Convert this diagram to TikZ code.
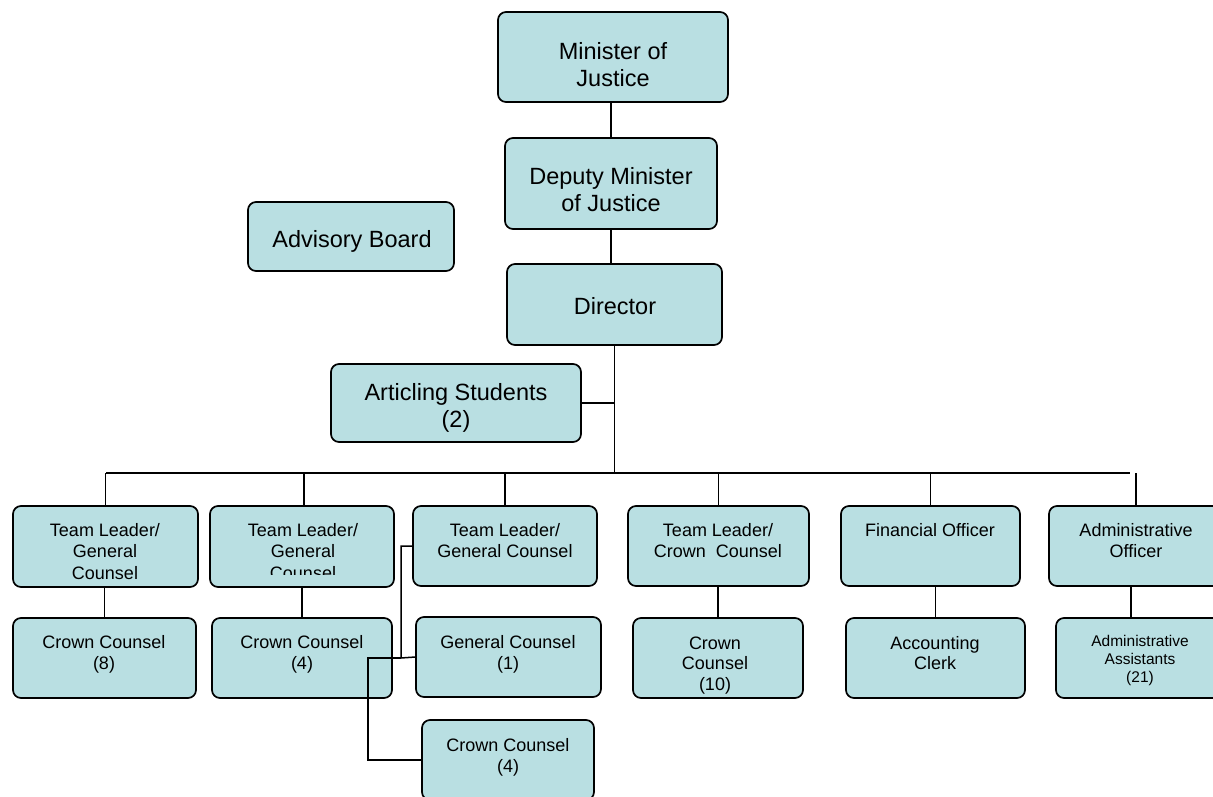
\documentclass[tikz,border=0pt]{standalone}
\usepackage{fontspec}
\setmainfont{Liberation Sans}
\definecolor{boxfill}{RGB}{185,223,226}
\newcommand{\tlines}[1]{\vtop{\halign{\hfil##\hfil\cr#1\crcr}}}
\begin{document}
\begin{tikzpicture}[x=1pt,y=-1pt,
  box/.style={draw=black, line width=1.7pt, rounded corners=8pt, fill=boxfill, inner sep=0pt},
  lbl/.style={anchor=base, inner sep=0pt},
  big/.style={font=\fontsize{23.5}{27}\selectfont},
  mid/.style={font=\fontsize{18}{21.5}\selectfont},
  midt/.style={font=\fontsize{18}{20.5}\selectfont},
  small/.style={font=\fontsize{15.5}{18}\selectfont},
  conn/.style={line width=1.5pt}]
\clip (0,0) rectangle (1213,796);
% boxes
\node[box, minimum width=230pt, minimum height=90pt] (min) at (613,57) {};
\node[box, minimum width=212pt, minimum height=91pt] (dep) at (611,183.5) {};
\node[box, minimum width=206pt, minimum height=69pt] (adv) at (351,236.5) {};
\node[box, minimum width=215pt, minimum height=81pt] (dir) at (614.5,304.5) {};
\node[box, minimum width=250pt, minimum height=78pt] (art) at (456,403) {};
\node[box, minimum width=185pt, minimum height=81pt] (tl1) at (105.5,546.5) {};
\node[box, minimum width=184pt, minimum height=81pt] (tl2) at (302,546.5) {};
\node[box, minimum width=184pt, minimum height=80pt] (tl3) at (505,546) {};
\node[box, minimum width=181pt, minimum height=80pt] (tlc) at (718.5,546) {};
\node[box, minimum width=179pt, minimum height=80pt] (fo) at (930.5,546) {};
\node[box, minimum width=174pt, minimum height=80pt] (ao) at (1136,546) {};
\node[box, minimum width=183pt, minimum height=80pt] (c8) at (104.5,658) {};
\node[box, minimum width=180pt, minimum height=80pt] (c4a) at (302,658) {};
\node[box, minimum width=185pt, minimum height=80pt] (gc1) at (508.5,657) {};
\node[box, minimum width=172pt, minimum height=80pt] (c4b) at (508,760) {};
\node[box, minimum width=170pt, minimum height=80pt] (c10) at (718,658) {};
\node[box, minimum width=179pt, minimum height=80pt] (ac) at (935.5,658) {};
\node[box, minimum width=168pt, minimum height=80pt] (aa) at (1140,658) {};
% labels
\node[lbl, big] (minT) at (613,59) {\tlines{Minister of\cr Justice}};
\node[lbl, big] (depT) at (611,184) {\tlines{Deputy Minister\cr of Justice}};
\node[lbl, big] (advT) at (352,247) {\tlines{Advisory Board}};
\node[lbl, big] (dirT) at (615,314) {\tlines{Director}};
\node[lbl, big] (artT) at (456,400) {\tlines{Articling Students\cr (2)}};
\node[lbl, mid] (tl1T) at (105,536) {\tlines{Team Leader/\cr General\cr Counsel}};
\begin{scope}
\clip (210,506) rectangle (394,574);
\node[lbl, mid] (tl2T) at (303,536) {\tlines{Team Leader/\cr General\cr Counsel}};
\end{scope}
\node[lbl, mid] (tl3T) at (505,536) {\tlines{Team Leader/\cr General Counsel}};
\node[lbl, mid] (tlcT) at (718,536) {\tlines{Team Leader/\cr Crown\ \ Counsel}};
\node[lbl, mid] (foT) at (930,536) {\tlines{Financial Officer}};
\node[lbl, mid] (aoT) at (1136,536) {\tlines{Administrative\cr Officer}};
\node[lbl, mid] (c8T) at (104,648) {\tlines{Crown Counsel\cr (8)}};
\node[lbl, mid] (c4aT) at (302,648) {\tlines{Crown Counsel\cr (4)}};
\node[lbl, mid] (gc1T) at (508,648) {\tlines{General Counsel\cr (1)}};
\node[lbl, mid] (c4bT) at (508,751) {\tlines{Crown Counsel\cr (4)}};
\node[lbl, midt] (c10T) at (715,649) {\tlines{Crown\cr Counsel\cr (10)}};
\node[lbl, midt] (acT) at (935,649) {\tlines{Accounting\cr Clerk}};
\node[lbl, small] (aaT) at (1140,646) {\tlines{Administrative\cr Assistants\cr (21)}};
% connectors
\coordinate (busL) at (106,473);
\coordinate (busR) at (1130,473);
\coordinate (j1) at (401,658);
\coordinate (j2) at (368,658);
\draw[conn] (dep.north) -- (dep.north |- min.south);
\draw[conn] (dep.south) -- (dep.south |- dir.north);
\draw[conn] (dir.south) -- (dir.south |- busL);
\draw[conn] (art.east) -- (art.east -| dir.south);
\draw[conn] (busL) -- (busR);
\draw[conn] (tl1.north) -- (tl1.north |- busL);
\draw[conn] ([xshift=2pt]tl2.north) -- ([xshift=2pt]tl2.north |- busL);
\draw[conn] (tl3.north) -- (tl3.north |- busL);
\draw[conn] (tlc.north) -- (tlc.north |- busL);
\draw[conn] (fo.north) -- (fo.north |- busL);
\draw[conn] (ao.north) -- (ao.north |- busR);
\draw[conn] (c8.north) -- (c8.north |- tl1.south);
\draw[conn] (c4a.north) -- (c4a.north |- tl2.south);
\draw[conn] (c10.north) -- (c10.north |- tlc.south);
\draw[conn] (ac.north) -- (ac.north |- fo.south);
\draw[conn] ([xshift=-5pt]ao.south) -- ([xshift=-5pt]ao.south |- aa.north);
\draw[conn] (tl3.west) -| (j1) -- (gc1.west);
\draw[conn] (j1) -- (j2) |- (c4b.west);
\end{tikzpicture}
\end{document}
